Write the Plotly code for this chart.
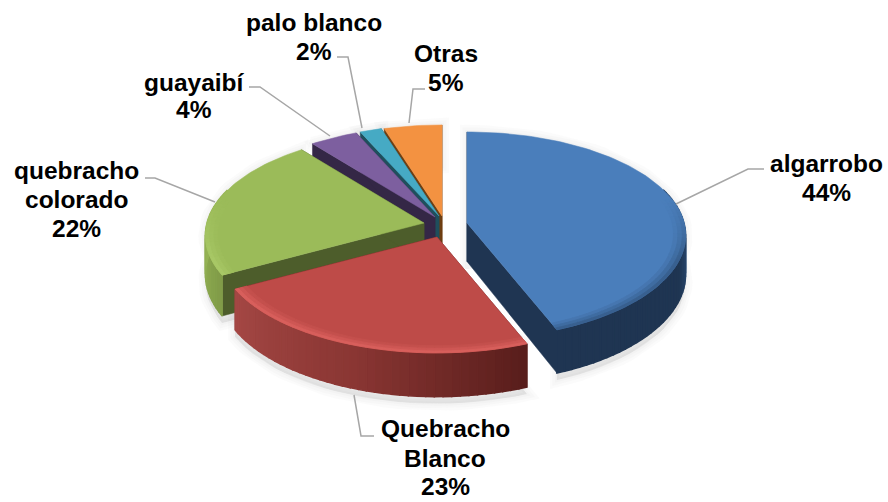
import math
import plotly.graph_objects as go

# --- data ---
categories = ["algarrobo", "Quebracho Blanco", "quebracho colorado", "guayaibí", "palo blanco", "Otras"]
values = [44.0, 23.0, 22.4, 4.0, 1.8, 4.8]

# --- style ---
top_colors = ["#4A7EBB", "#BE4B48", "#9BBB59", "#7D5F9F", "#46AAC4", "#F39241"]
radial_colors = ["#1F3552", "#5A1F1D", "#4D5D2B", "#342746", "#1F4F5C", "#6E3F12"]
rim_colors = ["#38608F", "#D85F5C", "#A8C866", "#7D5F9F", "#46AAC4", "#F39241"]
wall_stops = [
    [(60, "#1F3552"), (88, "#2F5684"), (112, "#1F3552"), (160, "#1F3552")],
    [(158, "#571D1B"), (200, "#8A3633"), (242, "#A54845")],
    [(240, "#7F9A47"), (270, "#94B254"), (322, "#94B254")],
    [(320, "#342746"), (340, "#342746")],
    [(330, "#1F4F5C"), (345, "#1F4F5C")],
    [(340, "#6E3F12"), (360, "#6E3F12")],
]
apexes = [(467, 223), (437, 237), (424, 223), (435, 217), (439, 216), (442, 216)]
draw_order = [5, 4, 3, 2, 0, 1]
RX, RY, PERSP, DEPTH = 217.0, 102.0, 0.12, 38.5

label_lines = [
    ["algarrobo"], ["Quebracho", "Blanco"], ["quebracho", "colorado"],
    ["guayaibí"], ["palo blanco"], ["Otras"],
]
label_pos = [
    [(826, 163), (826, 192)],
    [(445, 428), (445, 458), (445, 486)],
    [(76, 170), (76, 199), (76, 228)],
    [(194, 82), (194, 109)],
    [(314, 22), (314, 51)],
    [(446, 53), (446, 82)],
]
leaders = [
    [(676, 204), (748, 169), (764, 169)],
    [(354, 395), (361, 436), (374, 436)],
    [(215, 202), (155, 178), (145, 178)],
    [(330, 136), (260, 87), (249, 87)],
    [(362, 128), (348, 57), (337, 57)],
    [(409, 123), (413, 89), (425, 89)],
]


def hex2rgb(h):
    return tuple(int(h[i:i + 2], 16) for i in (1, 3, 5))


def mix(a, b, t):
    ca, cb = hex2rgb(a), hex2rgb(b)
    return "#%02X%02X%02X" % tuple(round(x + (y - x) * t) for x, y in zip(ca, cb))


def wall_color(stops, deg):
    if deg <= stops[0][0]:
        return stops[0][1]
    for (d0, c0), (d1, c1) in zip(stops, stops[1:]):
        if deg <= d1:
            return mix(c0, c1, (deg - d0) / (d1 - d0))
    return stops[-1][1]


def project(apex, deg, r=1.0, z=0.0):
    th = math.radians(deg)
    c = math.cos(th) * r
    s = 1.0 / (1.0 + PERSP * c)
    return (apex[0] + RX * math.sin(th) * r * s,
            apex[1] - RY * c * s + z * DEPTH * s)


fig = go.Figure()


def poly(points, color, line=1.0):
    xs = [p[0] for p in points] + [points[0][0]]
    ys = [p[1] for p in points] + [points[0][1]]
    fig.add_trace(go.Scatter(
        x=xs, y=ys, mode="lines", fill="toself", fillcolor=color,
        line=dict(color=color, width=line),
        hoverinfo="skip", showlegend=False,
    ))


total = sum(values)
spans = []
start = 0.0
for v in values:
    end = start + v / total * 360.0
    spans.append((start, end))
    start = end


def arc(a0, a1, n):
    return [a0 + (a1 - a0) * i / n for i in range(n + 1)]


# soft shadows
for i in draw_order:
    a0, a1 = spans[i]
    apex = apexes[i]
    angs = arc(a0, a1, max(6, int((a1 - a0) / 3)))
    outline = [(apex[0], apex[1] + 46)] + [
        (p[0], p[1] + 7) for p in (project(apex, a, 1.0, 1.0) for a in angs)
    ] + [project(apex, a, 1.0, 0.0) for a in reversed(angs)]
    for w in (14, 9, 4):
        xs = [p[0] for p in outline] + [outline[0][0]]
        ys = [p[1] for p in outline] + [outline[0][1]]
        fig.add_trace(go.Scatter(
            x=xs, y=ys, mode="lines", line=dict(color="rgba(130,130,130,0.035)", width=w),
            fill="toself", fillcolor="rgba(130,130,130,0.06)",
            hoverinfo="skip", showlegend=False,
        ))

# slices, back to front
rim_levels = [(0.945, 0.965, 0.25), (0.965, 0.985, 0.6), (0.985, 1.0, 1.0)]
for i in draw_order:
    a0, a1 = spans[i]
    apex = apexes[i]
    # radial walls
    for edge in (a0, a1):
        poly([project(apex, edge, 0.0, 0.0), project(apex, edge, 1.0, 0.0),
              project(apex, edge, 1.0, 1.0), project(apex, edge, 0.0, 1.0)], radial_colors[i], line=0.5)
    # outer wall
    step = 2.0
    n = max(2, int((a1 - a0) / step))
    angs = arc(a0, a1, n)
    for b0, b1 in zip(angs, angs[1:]):
        if math.cos(math.radians((b0 + b1) / 2)) > 0.35:
            continue
        col = wall_color(wall_stops[i], (b0 + b1) / 2)
        poly([project(apex, b0, 1.0, 0.0), project(apex, b1, 1.0, 0.0),
              project(apex, b1, 1.0, 1.0), project(apex, b0, 1.0, 1.0)], col, line=1.5)
    # top face
    fine = arc(a0, a1, max(8, int((a1 - a0) / 1.5)))
    poly([project(apex, a0, 0.0)] + [project(apex, a, 1.0) for a in fine], top_colors[i], line=0.5)
    # bevelled rim, fading into the top face
    for r0, r1, level in rim_levels:
        for b0, b1 in zip(angs, angs[1:]):
            mid = (b0 + b1) / 2
            c = math.cos(math.radians(mid))
            strength = max(0.0, min(1.0, (0.25 - c) / 0.6)) * level
            if strength <= 0:
                continue
            poly([project(apex, b0, r0), project(apex, b1, r0),
                  project(apex, b1, r1), project(apex, b0, r1)],
                 mix(top_colors[i], rim_colors[i], strength), line=0.8)

# leader lines and labels
for pts in leaders:
    fig.add_trace(go.Scatter(
        x=[p[0] for p in pts], y=[p[1] for p in pts], mode="lines",
        line=dict(color="#A6A6A6", width=1.5), hoverinfo="skip", showlegend=False,
    ))

for i, lines in enumerate(label_lines):
    texts = lines + ["%d%%" % round(values[i] / total * 100)]
    for text, (x, y) in zip(texts, label_pos[i]):
        fig.add_annotation(
            x=x, y=y, xref="x", yref="y", text=text, showarrow=False,
            xanchor="center", yanchor="middle",
            font=dict(family="Liberation Sans, Arial, sans-serif", size=24.5, color="#000000", weight="bold"),
        )

fig.update_layout(
    width=888, height=502, margin=dict(l=0, r=0, t=0, b=0),
    paper_bgcolor="#FFFFFF", plot_bgcolor="#FFFFFF", showlegend=False,
    xaxis=dict(range=[0, 888], visible=False, fixedrange=True),
    yaxis=dict(range=[502, 0], visible=False, fixedrange=True),
)
fig.write_html("out.html", config={"displayModeBar": False},
               post_script="document.body.style.margin='0';document.body.style.overflow='hidden';")
